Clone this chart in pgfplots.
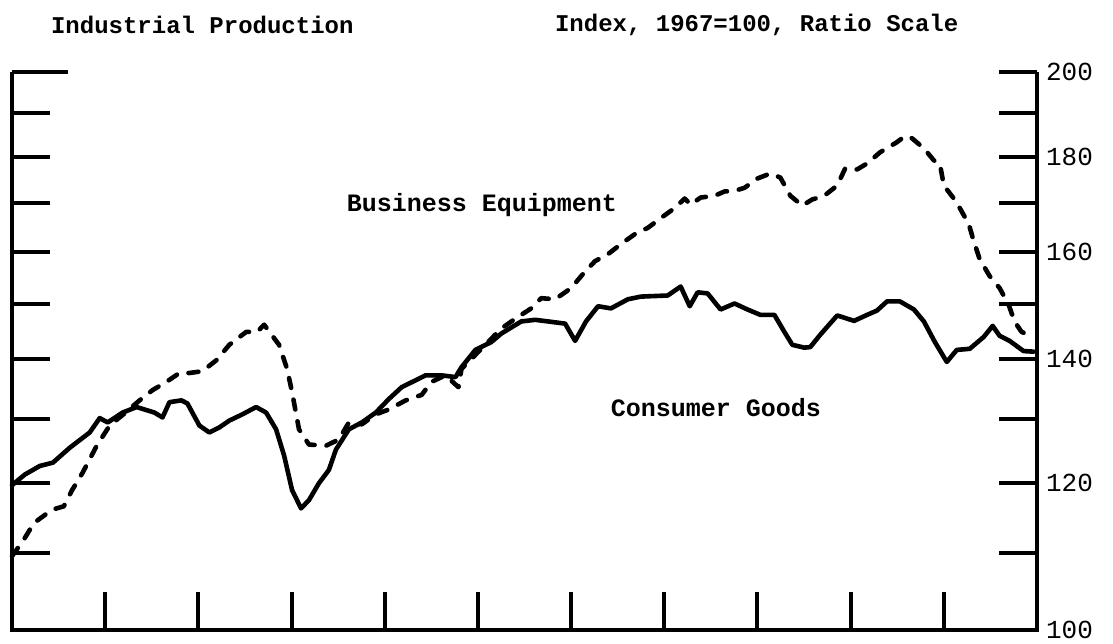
\documentclass[border=0pt]{standalone}
\usepackage{pgfplots}
\pgfplotsset{compat=1.18}
\usepackage{fontspec}
\setmainfont{Liberation Mono}
\begin{document}
\begin{tikzpicture}
\begin{axis}[
  scale only axis,
  width=512.5pt, height=279pt,
  xmin=0, xmax=11,
  ymode=log, ymin=100, ymax=200,
  axis line style={draw=none},
  xtick={1,2,3,4,5,6,7,8,9,10}, xticklabels={},
  xtick pos=bottom,
  ytick={100,110,120,130,140,150,160,170,180,190,200},
  yticklabels={100,,120,,140,,160,,180,,200},
  ytick pos=both,
  yticklabel pos=right,
  tick align=inside,
  major tick length=19pt,
  tick style={black, line width=2pt},
  yticklabel style={font=\fontsize{13}{15}\selectfont, anchor=west, xshift=1pt},
  /pgf/number format/assume math mode=true,
  clip=false,
]
\draw[line width=2pt, line join=miter] (rel axis cs:0,1) -- (rel axis cs:0,0) -- (rel axis cs:1,0) -- (rel axis cs:1,1);
\draw[line width=2pt] (rel axis cs:0,1) -- ++(28pt,0pt);
% Consumer Goods
\addplot[black, line width=2.3pt, line join=round, line cap=round] table {
x y
0.000 119.7
0.139 121.3
0.299 122.6
0.439 123.1
0.620 125.4
0.834 127.8
0.941 130.1
1.027 129.4
1.187 131.0
1.337 131.9
1.444 131.4
1.529 131.0
1.615 130.2
1.690 132.7
1.818 133.0
1.882 132.5
2.011 128.9
2.118 127.8
2.225 128.6
2.332 129.7
2.471 130.7
2.620 131.9
2.727 131.0
2.834 128.3
2.920 124.2
3.005 119.0
3.102 116.3
3.187 117.5
3.294 120.0
3.401 122.0
3.476 125.1
3.615 128.3
3.754 129.4
3.904 131.0
4.043 133.2
4.182 135.2
4.439 137.2
4.610 137.2
4.759 136.9
4.824 138.6
4.973 141.6
5.144 143.0
5.251 144.5
5.465 146.7
5.615 147.0
5.754 146.7
5.936 146.3
6.043 143.2
6.160 146.7
6.289 149.5
6.428 149.1
6.610 150.8
6.749 151.3
7.037 151.5
7.176 153.2
7.273 149.5
7.358 152.1
7.465 151.9
7.604 148.9
7.754 150.0
7.893 148.9
8.032 147.9
8.182 147.9
8.289 144.8
8.374 142.5
8.503 142.0
8.567 142.1
8.674 144.3
8.856 147.8
9.037 146.8
9.176 147.9
9.283 148.7
9.390 150.4
9.529 150.4
9.679 148.9
9.786 146.7
9.904 143.0
10.032 139.5
10.139 141.6
10.278 141.8
10.428 143.9
10.524 145.9
10.599 144.1
10.706 143.2
10.856 141.4
10.963 141.3
};
% Business Equipment
\addplot[black, line width=2.3pt, line cap=round, line join=round, dash pattern=on 5pt off 6pt] table {
x y
0.000 109.6
0.128 111.9
0.235 114.2
0.428 116.1
0.556 116.6
0.642 118.9
0.759 121.6
0.909 125.7
1.048 128.9
1.187 130.6
1.369 133.0
1.508 134.7
1.658 136.1
1.797 137.6
1.904 137.6
2.043 137.9
2.193 139.8
2.332 142.5
2.513 144.8
2.631 144.8
2.706 146.1
2.866 142.5
2.952 138.3
3.005 134.4
3.080 128.3
3.187 125.9
3.369 125.7
3.508 126.7
3.615 129.4
3.754 129.1
3.904 130.7
4.043 131.5
4.225 133.0
4.396 133.9
4.503 136.1
4.652 137.2
4.791 135.2
4.824 138.3
5.037 141.8
5.251 145.4
5.401 147.2
5.572 149.1
5.679 151.0
5.829 150.8
6.000 152.9
6.150 156.1
6.257 158.1
6.396 159.5
6.535 161.5
6.684 163.5
6.824 164.8
6.963 166.8
7.112 168.9
7.219 170.9
7.283 169.6
7.390 171.1
7.540 171.5
7.647 172.4
7.765 172.6
7.861 173.2
8.000 175.2
8.139 176.3
8.246 175.4
8.353 171.5
8.481 169.4
8.588 170.7
8.717 171.5
8.856 173.7
8.941 177.4
9.070 177.2
9.176 178.5
9.316 181.0
9.497 183.3
9.583 184.7
9.658 184.2
9.786 181.9
9.893 179.2
9.957 178.5
10.000 173.7
10.107 170.9
10.171 168.9
10.267 165.6
10.321 162.1
10.385 158.5
10.492 155.2
10.599 152.9
10.695 149.8
10.759 146.7
10.834 144.8
10.963 143.9
};
\end{axis}
\node[anchor=west, font=\bfseries\fontsize{12}{14}\selectfont] at (16pt,302.5pt) {Industrial Production};
\node[anchor=west, font=\bfseries\fontsize{12}{14}\selectfont] at (268pt,302.5pt) {Index, 1967=100, Ratio Scale};
\node[font=\bfseries\fontsize{12.5}{14}\selectfont] at (235pt,212.5pt) {Business Equipment};
\node[font=\bfseries\fontsize{12.5}{14}\selectfont] at (352pt,111pt) {Consumer Goods};
\pgfresetboundingbox
\path[use as bounding box] (-6pt,-6.5pt) rectangle (550.5pt,315pt);
\end{tikzpicture}
\end{document}
